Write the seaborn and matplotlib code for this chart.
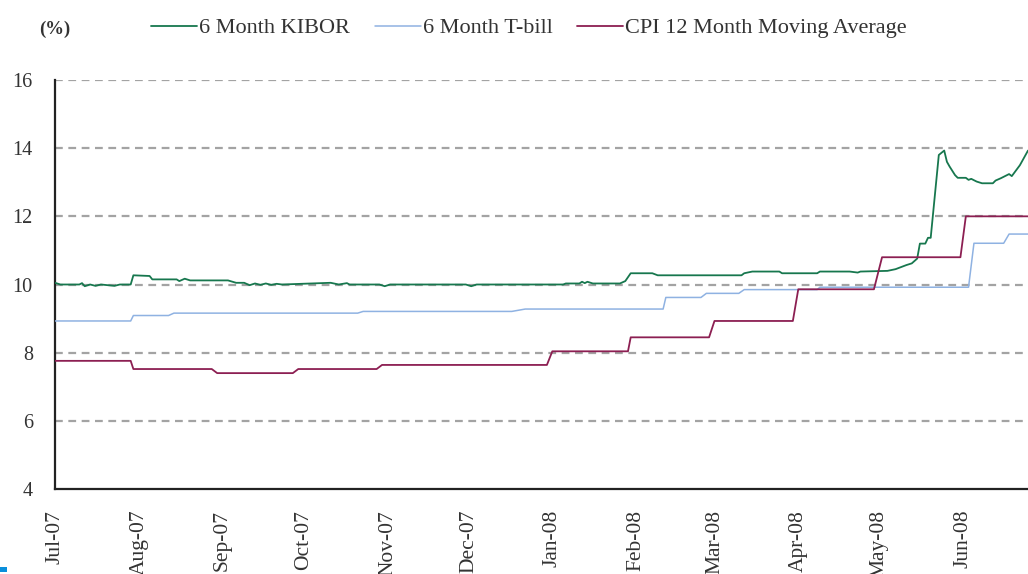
import matplotlib
matplotlib.use('Agg')
import matplotlib.pyplot as plt
from matplotlib.patches import Rectangle
from matplotlib.lines import Line2D
import pandas as pd
import seaborn as sns

# ---------------- data ----------------
kibor_dates = ['2007-07-01', '2007-07-03', '2007-07-10', '2007-07-11', '2007-07-12', '2007-07-14',
               '2007-07-16', '2007-07-18', '2007-07-23', '2007-07-25', '2007-07-29', '2007-07-30',
               '2007-08-05', '2007-08-06', '2007-08-15', '2007-08-16', '2007-08-18', '2007-08-20',
               '2007-09-03', '2007-09-06', '2007-09-09', '2007-09-11', '2007-09-13', '2007-09-15',
               '2007-09-17', '2007-09-19', '2007-09-21', '2007-09-23', '2007-10-11', '2007-10-14',
               '2007-10-17', '2007-10-18', '2007-10-29', '2007-10-31', '2007-11-02', '2007-11-30',
               '2007-12-02', '2007-12-04', '2008-01-05', '2008-01-06', '2008-01-11', '2008-01-12',
               '2008-01-13', '2008-01-14', '2008-01-16', '2008-01-26', '2008-01-28', '2008-01-30',
               '2008-02-07', '2008-02-09', '2008-03-11', '2008-03-12', '2008-03-15', '2008-03-25',
               '2008-03-26', '2008-04-08', '2008-04-09', '2008-04-20', '2008-04-23', '2008-04-24',
               '2008-05-04', '2008-05-07', '2008-05-11', '2008-05-13', '2008-05-15', '2008-05-16',
               '2008-05-18', '2008-05-19', '2008-05-20', '2008-05-23', '2008-05-25', '2008-05-26',
               '2008-05-27', '2008-05-29', '2008-05-30', '2008-06-02', '2008-06-03', '2008-06-04',
               '2008-06-06', '2008-06-08', '2008-06-12', '2008-06-13', '2008-06-15', '2008-06-17',
               '2008-06-18', '2008-06-19', '2008-06-22', '2008-06-25']
kibor_values = [10.05, 10.00, 10.00, 10.04, 9.95, 10.00,
                9.96, 10.00, 9.96, 10.00, 10.00, 10.27,
                10.25, 10.15, 10.15, 10.10, 10.17, 10.12,
                10.12, 10.05, 10.05, 9.98, 10.03, 9.99,
                10.03, 9.99, 10.02, 10.00, 10.05, 10.00,
                10.04, 10.00, 10.00, 9.95, 10.00, 10.00,
                9.95, 10.00, 10.00, 10.03, 10.03, 10.08,
                10.04, 10.08, 10.03, 10.03, 10.10, 10.33,
                10.33, 10.27, 10.27, 10.33, 10.38, 10.38,
                10.33, 10.33, 10.38, 10.38, 10.35, 10.38,
                10.40, 10.45, 10.57, 10.62, 10.76, 11.20,
                11.20, 11.37, 11.37, 13.80, 13.93, 13.60,
                13.46, 13.21, 13.13, 13.13, 13.07, 13.10,
                13.02, 12.97, 12.97, 13.05, 13.12, 13.20,
                13.24, 13.18, 13.50, 13.93]

tbill_dates = ['2007-07-01', '2007-07-29', '2007-07-30', '2007-08-12', '2007-08-14', '2007-10-21',
               '2007-10-23', '2007-12-17', '2007-12-22', '2008-02-11', '2008-02-12', '2008-02-25',
               '2008-02-27', '2008-03-10', '2008-03-12', '2008-04-08', '2008-04-09', '2008-06-03',
               '2008-06-05', '2008-06-16', '2008-06-18', '2008-06-25']
tbill_values = [8.93, 8.93, 9.09, 9.09, 9.16, 9.16,
                9.21, 9.21, 9.28, 9.28, 9.62, 9.62,
                9.74, 9.74, 9.85, 9.85, 9.92, 9.92,
                11.21, 11.21, 11.48, 11.48]

cpi_dates = ['2007-07-01', '2007-07-29', '2007-07-30', '2007-08-28', '2007-08-30', '2007-09-27',
             '2007-09-29', '2007-10-28', '2007-10-30', '2007-12-30', '2008-01-01', '2008-01-29',
             '2008-01-30', '2008-02-28', '2008-03-01', '2008-03-30', '2008-04-01', '2008-04-29',
             '2008-05-02', '2008-05-31', '2008-06-02', '2008-06-25']
cpi_values = [7.76, 7.76, 7.52, 7.52, 7.40, 7.40,
              7.52, 7.52, 7.64, 7.64, 8.04, 8.04,
              8.45, 8.45, 8.93, 8.93, 9.86, 9.86,
              10.80, 10.80, 12.00, 12.00]

series_names = ['6 Month KIBOR', '6 Month T-bill', 'CPI 12 Month Moving Average']
tick_months = ['2007-07-01', '2007-08-01', '2007-09-01', '2007-10-01', '2007-11-01', '2007-12-01',
               '2008-01-01', '2008-02-01', '2008-03-01', '2008-04-01', '2008-05-01', '2008-06-01']
tick_labels = ['Jul-07', 'Aug-07', 'Sep-07', 'Oct-07', 'Nov-07', 'Dec-07',
               'Jan-08', 'Feb-08', 'Mar-08', 'Apr-08', 'May-08', 'Jun-08']
y_ticks = [4, 6, 8, 10, 12, 14, 16]

# ---------------- styling ----------------
sns.set_style('white')
plt.rcParams['font.family'] = ['Liberation Serif', 'DejaVu Serif']
FS = 15.5
LEG_FS = 16

colors = {'6 Month KIBOR': '#17774e', '6 Month T-bill': '#8fb2e2',
          'CPI 12 Month Moving Average': '#8c1f52'}
widths = {'6 Month KIBOR': 1.3, '6 Month T-bill': 1.1, 'CPI 12 Month Moving Average': 1.3}

frames = []
for name, d, v in zip(series_names, [kibor_dates, tbill_dates, cpi_dates],
                      [kibor_values, tbill_values, cpi_values]):
    frames.append(pd.DataFrame({'date': pd.to_datetime(d), 'value': v, 'series': name}))
df = pd.concat(frames, ignore_index=True)

fig = plt.figure(figsize=(10.28, 5.74), dpi=100)
ax = fig.add_axes([55 / 1028, (574 - 489) / 574, 1 - 55 / 1028, (489 - 80) / 574])

for yv in y_ticks[1:]:
    ax.axhline(yv, color='#a3a3a3', lw=1.6, linestyle=(0, (3.5, 2.5)), zorder=1)

for name in series_names:
    sub = df[df['series'] == name]
    sns.lineplot(data=sub, x='date', y='value', ax=ax, color=colors[name],
                 lw=widths[name], estimator=None, legend=False, zorder=3)

ax.set_ylim(4, 16)
ax.set_xlim(pd.Timestamp('2007-07-01'), pd.Timestamp('2008-06-25'))
ax.set_yticks(y_ticks)
ax.set_yticklabels([str(t) for t in y_ticks], fontsize=14.5, color='#333333')
ax.set_xticks(pd.to_datetime(tick_months))
ax.set_xticklabels(tick_labels, rotation=90, fontsize=FS, color='#333333', va='top', ha='center')
ax.set_xlabel('')
ax.set_ylabel('')
ax.tick_params(axis='y', direction='out', length=6, width=1.2, pad=10, colors='#222222', labelcolor='#333333')
ax.tick_params(axis='x', direction='out', length=5, width=1.2, pad=10, colors='#222222', labelcolor='#333333')
for side in ['top', 'right']:
    ax.spines[side].set_visible(False)
for side in ['left', 'bottom']:
    ax.spines[side].set_color('#222222')
    ax.spines[side].set_linewidth(1.6)
ax.grid(False)

handles = [Line2D([0], [0], color=colors[n], lw=widths[n]) for n in series_names]
fig.legend(handles, series_names, loc='center left', bbox_to_anchor=(151 / 1028, 1 - 28 / 574),
           ncol=3, frameon=False, fontsize=LEG_FS, handlelength=2.07, handletextpad=0.1,
           columnspacing=1.1, borderpad=0, borderaxespad=0, labelcolor='#333333')
fig.text(55 / 1028, 1 - 29 / 574, '(%)', ha='center', va='center', fontsize=13.5,
         fontweight='bold', color='#333333')

fig.patches.append(Rectangle((0, 2 / 574), 7 / 1028, 5 / 574, transform=fig.transFigure,
                             facecolor='#0a8fdb', edgecolor='none', figure=fig))

fig.savefig('out.png', dpi=100)
